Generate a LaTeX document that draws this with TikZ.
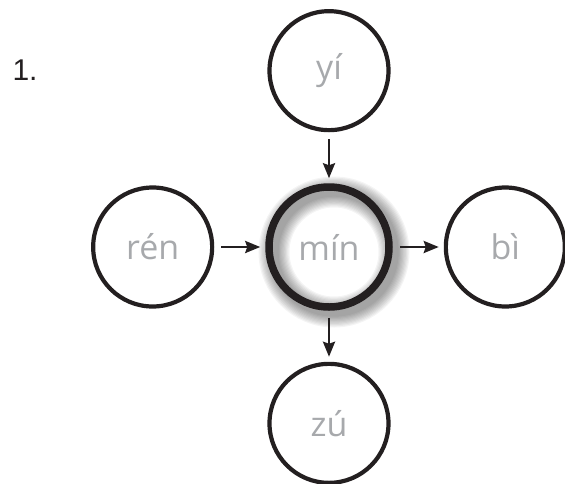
\documentclass[tikz,border=0pt]{standalone}
\usepackage{fontspec}
\setmainfont{Liberation Sans}
\newfontfamily\syllfont{Open Sans}
\usetikzlibrary{positioning,arrows.meta}
\definecolor{inkblack}{RGB}{35,31,32}
\definecolor{syllgray}{RGB}{167,169,172}

\begin{document}
\begin{tikzpicture}[x=1pt,y=-1pt,>={Stealth[length=15pt,width=12pt,inset=2pt]},
    syll/.style={circle,draw=inkblack,line width=4.2pt,minimum size=119pt,inner sep=0pt,
      font=\syllfont\fontsize{34}{40}\selectfont,text=syllgray},
    hub/.style={syll,line width=7.5pt,minimum size=120pt},
    link/.style={->,draw=inkblack,line width=2.6pt,shorten <=7pt,shorten >=5pt},
    node distance=51pt]
    \useasboundingbox (0,0) rectangle (565,483);
    \node[anchor=base west,font=\fontsize{30}{34}\selectfont,text=inkblack] (num) at (9,80) {1.};
    % soft shadow under the central ring
    \foreach \w in {1,...,10}
      \draw[black,opacity=0.045,line width={7pt+2.4pt*\w}] (334,252) circle (60);
    \node[hub] (mn) at (329,247) {mín};
    \node[syll,above=of mn] (yi) {yí};
    \node[syll,below=of mn] (zu) {zú};
    \node[syll,left=of mn] (ren) {rén};
    \node[syll,right=of mn] (bi) {bì};
    \draw[link] (yi)--(mn); \draw[link] (ren)--(mn);
    \draw[link] (mn)--(bi); \draw[link] (mn)--(zu);
  \end{tikzpicture}
\end{document}
